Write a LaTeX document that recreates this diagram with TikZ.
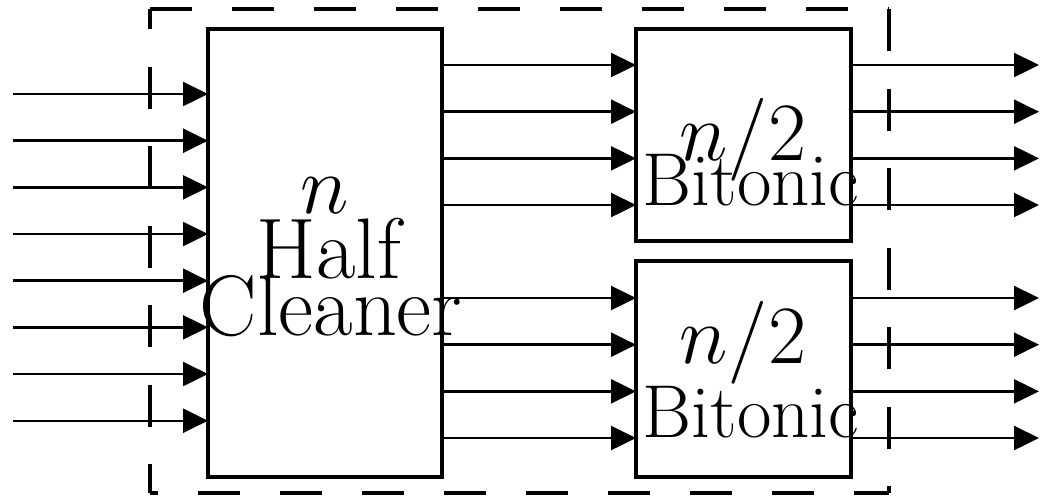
\documentclass[tikz,border=0pt]{standalone}
\usetikzlibrary{arrows.meta}
\tikzset{
  blk/.style    = {draw, line width=0.85pt, inner sep=0pt, outer sep=0pt},
  sig/.style    = {-{Triangle[length=6.25pt, width=6pt]}, line width=0.6pt},
  frame/.style  = {line width=1pt},
  biglbl/.style = {anchor=base, inner sep=0pt, font=\fontsize{21.5}{25}\selectfont},
  smllbl/.style = {anchor=base, inner sep=0pt, font=\fontsize{18.75}{22}\selectfont},
}

\begin{document}
\begin{tikzpicture}[x=0.25pt, y=-0.25pt]
  \useasboundingbox (0,0) rectangle (1040,496);

  % the merger as a whole, one side at a time
  \draw[frame, dash pattern=on 10.5pt off 10pt] (150,9) -- (889,9);
  \draw[frame, dash pattern=on 10.5pt off 9.375pt] (889,9) -- (889,493);
  \draw[frame, dash pattern=on 10.5pt off 10pt, dash phase=8.5pt] (150,493) -- (889,493);
  \draw[frame, dash pattern=on 10.5pt off 9.375pt, dash phase=5.5pt] (150,9) -- (150,493);

  % half cleaner and the two half-size bitonic sorters
  \node[blk, minimum width=58.5pt, minimum height=112pt] (hc) at (325,253) {};
  \node[blk, minimum width=53.75pt, minimum height=53pt] (bt1) at (743.5,135) {};
  \node[blk, minimum width=53.75pt, minimum height=54pt] (bt2) at (743.5,369) {};

  \node[biglbl] (hcn) at (325,213) {$n$};
  \node[biglbl] (hch) at (329,278) {Half};
  \node[biglbl] (hcc) at (331,335) {Cleaner};
  \node[biglbl] (bt1n) at (743,160) {$n/2$};
  \node[smllbl] (bt1b) at (751,205) {Bitonic};
  \node[biglbl] (bt2n) at (743,363) {$n/2$};
  \node[smllbl] (bt2b) at (751,437) {Bitonic};

  % n inputs
  \foreach \i in {0,...,7}
    {\coordinate (in\i) at (13,{94+46.67*\i});
     \draw[sig] (in\i) -- (in\i -| hc.west);}

  % upper half: cleaner -> bt1 -> out
  \foreach \i in {0,...,3}
    {\coordinate (up\i) at (1039,{65+46.67*\i});
     \draw[sig] (up\i -| hc.east) -- (up\i -| bt1.west);
     \draw[sig] (up\i -| bt1.east) -- (up\i);}

  % lower half: cleaner -> bt2 -> out
  \foreach \i in {0,...,3}
    {\coordinate (lo\i) at (1039,{298+46.67*\i});
     \draw[sig] (lo\i -| hc.east) -- (lo\i -| bt2.west);
     \draw[sig] (lo\i -| bt2.east) -- (lo\i);}
\end{tikzpicture}
\end{document}
